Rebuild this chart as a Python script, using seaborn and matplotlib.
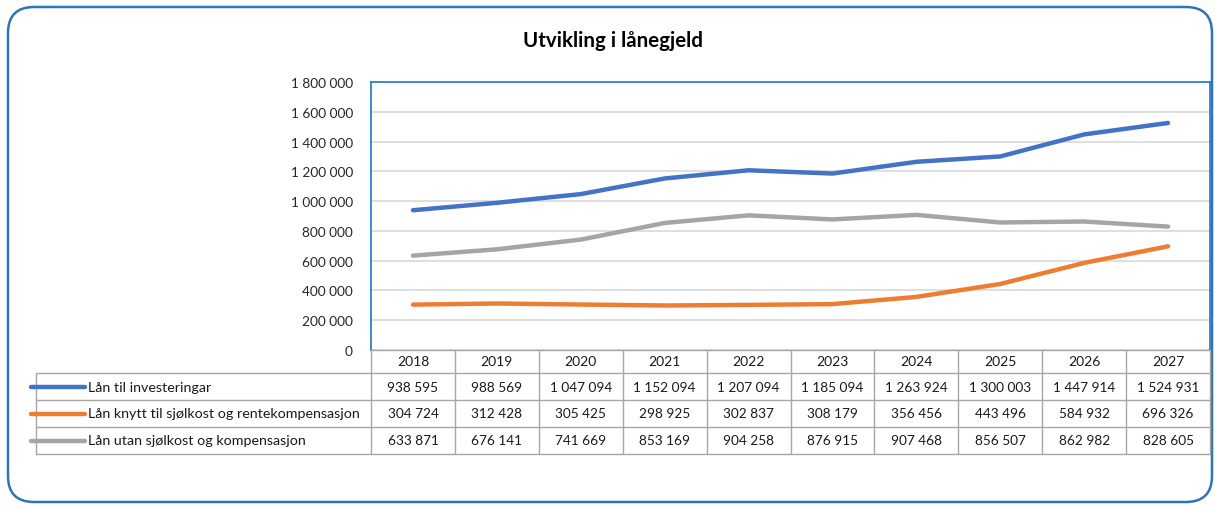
import pandas as pd
import matplotlib
matplotlib.use("Agg")
import matplotlib.pyplot as plt
import seaborn as sns
from matplotlib.patches import FancyBboxPatch
from matplotlib.lines import Line2D
from matplotlib.transforms import IdentityTransform
from matplotlib.ticker import FuncFormatter, MultipleLocator

# ── data ────────────────────────────────────────
years = [2018, 2019, 2020, 2021, 2022, 2023, 2024, 2025, 2026, 2027]
series_names = ["Lån til investeringar",
                "Lån knytt til sjølkost og rentekompensasjon",
                "Lån utan sjølkost og kompensasjon"]
invest = [938595, 988569, 1047094, 1152094, 1207094, 1185094, 1263924, 1300003, 1447914, 1524931]
sjolkost = [304724, 312428, 305425, 298925, 302837, 308179, 356456, 443496, 584932, 696326]
utan = [633871, 676141, 741669, 853169, 904258, 876915, 907468, 856507, 862982, 828605]
colors = ['#4472C4', '#ED7D31', '#A5A5A5']

values = [invest, sjolkost, utan]
df = pd.DataFrame({
    'idx': list(range(len(years))) * 3,
    'value': invest + sjolkost + utan,
    'serie': [n for n in series_names for _ in years],
})


def fmt(v):
    return f"{int(v):,}".replace(",", " ")


sns.set_theme(style="white")
plt.rcParams['font.family'] = ['Lato', 'DejaVu Sans']

W, H = 1215, 506
fig = plt.figure(figsize=(W / 100, H / 100), dpi=100)
fig.patch.set_facecolor('white')


def fx(px):
    return px / W


def fy(py):
    return 1 - py / H


# plot area (pixels)
L, R, T, B = 371, 1210, 83, 351
ax = fig.add_axes([fx(L), fy(B), (R - L) / W, (B - T) / H])

sns.lineplot(data=df, x='idx', y='value', hue='serie', palette=colors,
             linewidth=3.2, legend=False, ax=ax, solid_capstyle='round')
ax.set_xlim(-0.5, len(years) - 0.5)
ax.set_ylim(0, 1800000)
ax.yaxis.set_major_locator(MultipleLocator(200000))
ax.yaxis.set_major_formatter(FuncFormatter(lambda v, p: fmt(v)))
ax.set_xticks([])
ax.set_xlabel(''); ax.set_ylabel('')
ax.grid(axis='y', color='#d9d9d9', linewidth=1.2)
ax.tick_params(axis='y', length=0, pad=13, labelsize=9.8, labelcolor='#262626')
for s in ['left', 'top', 'right']:
    ax.spines[s].set_color('#2f7fd0')
    ax.spines[s].set_linewidth(1.3)
ax.spines['bottom'].set_color('#a6a6a6')
ax.spines['bottom'].set_linewidth(1.0)

# ── data table below the plot ───────────────────
line_col = '#a6a6a6'
txt_col = '#1a1a1a'
ncol = len(years)
cw = (R - L) / ncol
x_edges = [L + i * cw for i in range(ncol + 1)]
lab_left = 36
header_bottom = 374
row_h = 27
row_edges = [header_bottom + i * row_h for i in range(len(series_names) + 1)]
table_bottom = row_edges[-1]


def hline(y, x0, x1):
    fig.add_artist(Line2D([fx(x0), fx(x1)], [fy(y), fy(y)], color=line_col, lw=1.0))


def vline(x, y0, y1):
    fig.add_artist(Line2D([fx(x), fx(x)], [fy(y0), fy(y1)], color=line_col, lw=1.0))


for y in row_edges:
    hline(y, lab_left, R)
for x in x_edges:
    vline(x, B, table_bottom)
vline(lab_left, header_bottom, table_bottom)

for i, yr in enumerate(years):
    fig.text(fx(x_edges[i] + cw / 2), fy((B + header_bottom) / 2), str(yr),
             ha='center', va='center', fontsize=10, color=txt_col)

for r, (name, vals, c) in enumerate(zip(series_names, values, colors)):
    yc = (row_edges[r] + row_edges[r + 1]) / 2
    fig.add_artist(Line2D([fx(31), fx(85)], [fy(yc), fy(yc)], color=c, lw=3.2,
                          solid_capstyle='round'))
    fig.text(fx(88), fy(yc), name, ha='left', va='center', fontsize=10.3, color=txt_col)
    for i, v in enumerate(vals):
        fig.text(fx(x_edges[i] + cw / 2), fy(yc), fmt(v),
                 ha='center', va='center', fontsize=9.8, color=txt_col)

# ── title and rounded frame ─────────────────────
fig.text(fx(613), fy(41), "Utvikling i lånegjeld", ha='center', va='center',
         fontsize=14.8, fontweight='bold', color='#000000')

frame = FancyBboxPatch((8, 3), 1204, 495, boxstyle="round,pad=0,rounding_size=26",
                       transform=IdentityTransform(), fill=False,
                       edgecolor='#2e75b6', linewidth=1.8)
fig.add_artist(frame)

fig.savefig("out.png", dpi=100, facecolor='white')
